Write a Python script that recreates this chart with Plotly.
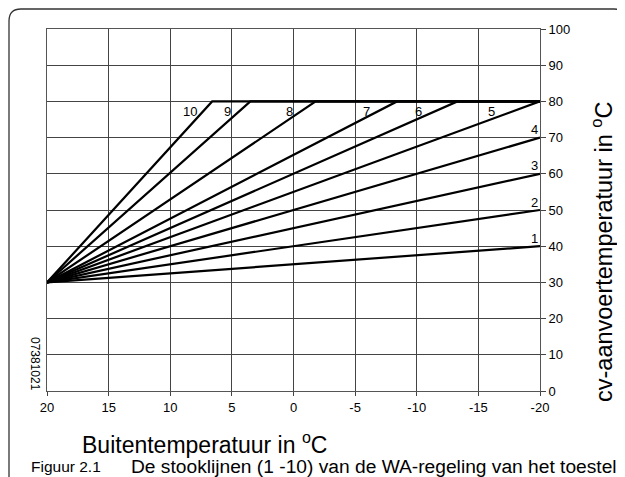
import plotly.graph_objects as go

# ---- data ----
line_numbers = ["1", "2", "3", "4", "5", "6", "7", "8", "9", "10"]
line_temps = [
    [20, -20], [20, -20], [20, -20], [20, -20], [20, -20],
    [20, -13.3, -20], [20, -8.4, -20], [20, -1.8, -20], [20, 3.5, -20], [20, 6.6, -20],
]
line_flows = [
    [30, 40], [30, 50], [30, 60], [30, 70], [30, 80],
    [30, 80, 80], [30, 80, 80], [30, 80, 80], [30, 80, 80], [30, 80, 80],
]
x_ticks = [20, 15, 10, 5, 0, -5, -10, -15, -20]
y_ticks = [0, 10, 20, 30, 40, 50, 60, 70, 80, 90, 100]

# ---- styling ----
FONT = "Liberation Sans, Arial, sans-serif"
PAGE_OFFSET = 8            # browser body margin
W, H = 625 - PAGE_OFFSET, 477 - PAGE_OFFSET
L, R, T, B = 47, 540, 29, 391   # plot area in page pixels
label_xshift = [-6, -6, -6, -6, -49, -39, -31, -26, -23, -22]


def px(x):
    return (x - L) / (R - L)


def py(y):
    return (B - y) / (B - T)


fig = go.Figure()
for name, xs, ys in zip(line_numbers, line_temps, line_flows):
    fig.add_trace(go.Scatter(x=xs, y=ys, mode="lines", name=name,
                             line=dict(color="black", width=2.2), showlegend=False,
                             hoverinfo="skip"))

annotations = []
for i, (name, xs, ys) in enumerate(zip(line_numbers, line_temps, line_flows)):
    if len(xs) == 2 and ys[-1] < 80:
        annotations.append(dict(x=xs[-1], y=ys[-1], text=name, showarrow=False,
                                xref="x", yref="y", xanchor="center", yanchor="middle",
                                xshift=label_xshift[i], yshift=8,
                                font=dict(family=FONT, size=13, color="black")))
    else:
        reach = xs[1] if len(xs) == 3 else xs[-1]
        annotations.append(dict(x=reach, y=80, text=name, showarrow=False,
                                xref="x", yref="y", xanchor="center", yanchor="middle",
                                xshift=label_xshift[i], yshift=-10,
                                font=dict(family=FONT, size=13, color="black")))

annotations += [
    dict(x=px(80), y=py(443), xref="paper", yref="paper", text="Buitentemperatuur in <sup>o</sup>C",
         showarrow=False, xanchor="left", yanchor="middle",
         font=dict(family=FONT, size=23, color="black")),
    dict(x=px(602), y=py(252), xref="paper", yref="paper", text="cv-aanvoertemperatuur in <sup>o</sup>C",
         showarrow=False, xanchor="center", yanchor="middle", textangle=-90,
         font=dict(family=FONT, size=23.5, color="black")),
    dict(x=px(29), y=py(467), xref="paper", yref="paper", text="Figuur 2.1",
         showarrow=False, xanchor="left", yanchor="middle",
         font=dict(family=FONT, size=15.5, color="black")),
    dict(x=px(129), y=py(467), xref="paper", yref="paper",
         text="De stooklijnen (1 -10) van de WA-regeling van het toestel",
         showarrow=False, xanchor="left", yanchor="middle",
         font=dict(family=FONT, size=19.2, color="black")),
    dict(x=px(35), y=py(364), xref="paper", yref="paper", text="07381021",
         showarrow=False, xanchor="center", yanchor="middle", textangle=90,
         font=dict(family=FONT, size=12, color="black")),
]

frame_path = (
    f"M {px(9)},{py(480)} L {px(9)},{py(21)} Q {px(9)},{py(9)} {px(21)},{py(9)} "
    f"L {px(614)},{py(9)} Q {px(626)},{py(9)} {px(626)},{py(21)}"
)

fig.update_layout(
    width=W, height=H,
    margin=dict(l=L - PAGE_OFFSET, r=625 - R, t=T - PAGE_OFFSET, b=477 - B),
    paper_bgcolor="white", plot_bgcolor="white",
    annotations=annotations,
    shapes=[dict(type="path", path=frame_path, xref="paper", yref="paper",
                 line=dict(color="#333", width=1.3), layer="above")],
    xaxis=dict(range=[20, -20], tickvals=x_ticks, ticktext=[str(v) for v in x_ticks],
               showgrid=True, gridcolor="#444", gridwidth=1, zeroline=False,
               showline=True, mirror=True, linecolor="#555", linewidth=1,
               ticks="outside", ticklen=4, tickcolor="#444",
               tickfont=dict(family=FONT, size=13, color="black")),
    yaxis=dict(range=[0, 100], tickvals=y_ticks, side="right",
               showgrid=True, gridcolor="#444", gridwidth=1, zeroline=False,
               showline=True, mirror=True, linecolor="#555", linewidth=1,
               ticks="outside", ticklen=5, tickcolor="#444",
               tickfont=dict(family=FONT, size=13, color="black")),
)

fig.write_html("out.html")
